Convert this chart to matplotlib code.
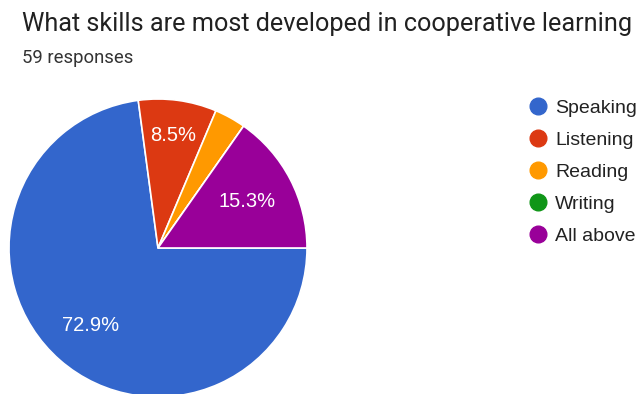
import matplotlib
matplotlib.use("Agg")
import matplotlib.pyplot as plt
from matplotlib.lines import Line2D
import numpy as np

categories = ["Speaking", "Listening", "Reading", "Writing", "All above"]
counts = [43, 5, 2, 0, 9]
colors = ["#3366CC", "#DC3912", "#FF9900", "#109618", "#990099"]
title = "What skills are most developed in cooperative learning"
subtitle = "59 responses"

W, H = 642, 394
fig = plt.figure(figsize=(W / 100, H / 100), dpi=100)

# pie axes in pixel geometry: center (158, 248), radius 149
cx, cy, r = 158, 248, 149
ax = fig.add_axes([(cx - r) / W, (H - cy - r) / H, 2 * r / W, 2 * r / H])
total = sum(counts)
wedges, _ = ax.pie(counts, colors=colors, startangle=0, counterclock=False,
                   radius=1, wedgeprops=dict(edgecolor="white", linewidth=1.2))
for w in wedges:
    w.set_clip_on(False)
ax.set_xlim(-1, 1)
ax.set_ylim(-1, 1)
ax.set_aspect("equal")
ax.axis("off")

label_r = {0: 0.69, 1: 0.76, 4: 0.67}
for i, w in enumerate(wedges):
    frac = counts[i] / total
    if frac < 0.05:
        continue
    mid = np.deg2rad((w.theta1 + w.theta2) / 2)
    rr = label_r.get(i, 0.7)
    ax.text(rr * np.cos(mid), rr * np.sin(mid), f"{frac*100:.1f}%",
            ha="center", va="center", color="white", fontsize=14.5,
            family="Liberation Sans")

fig.text(22 / W, 1 - 24 / H, title, fontsize=18.2, family="Roboto",
         color="#212121", va="center", ha="left")
fig.text(22 / W, 1 - 58 / H, subtitle, fontsize=13.3, family="Roboto",
         color="#333333", va="center", ha="left")

handles = [Line2D([0], [0], marker="o", linestyle="none", markersize=12,
                  markerfacecolor=c, markeredgecolor=c) for c in colors]
leg = fig.legend(handles, categories, loc="upper left",
                 bbox_to_anchor=(526 / W, 1 - 99 / H), frameon=False,
                 prop=dict(family="Liberation Sans", size=14),
                 labelspacing=0.74, handletextpad=0.3, handlelength=1.2,
                 borderpad=0, borderaxespad=0)
for t in leg.get_texts():
    t.set_color("#222222")

fig.savefig("out.png", dpi=100)
